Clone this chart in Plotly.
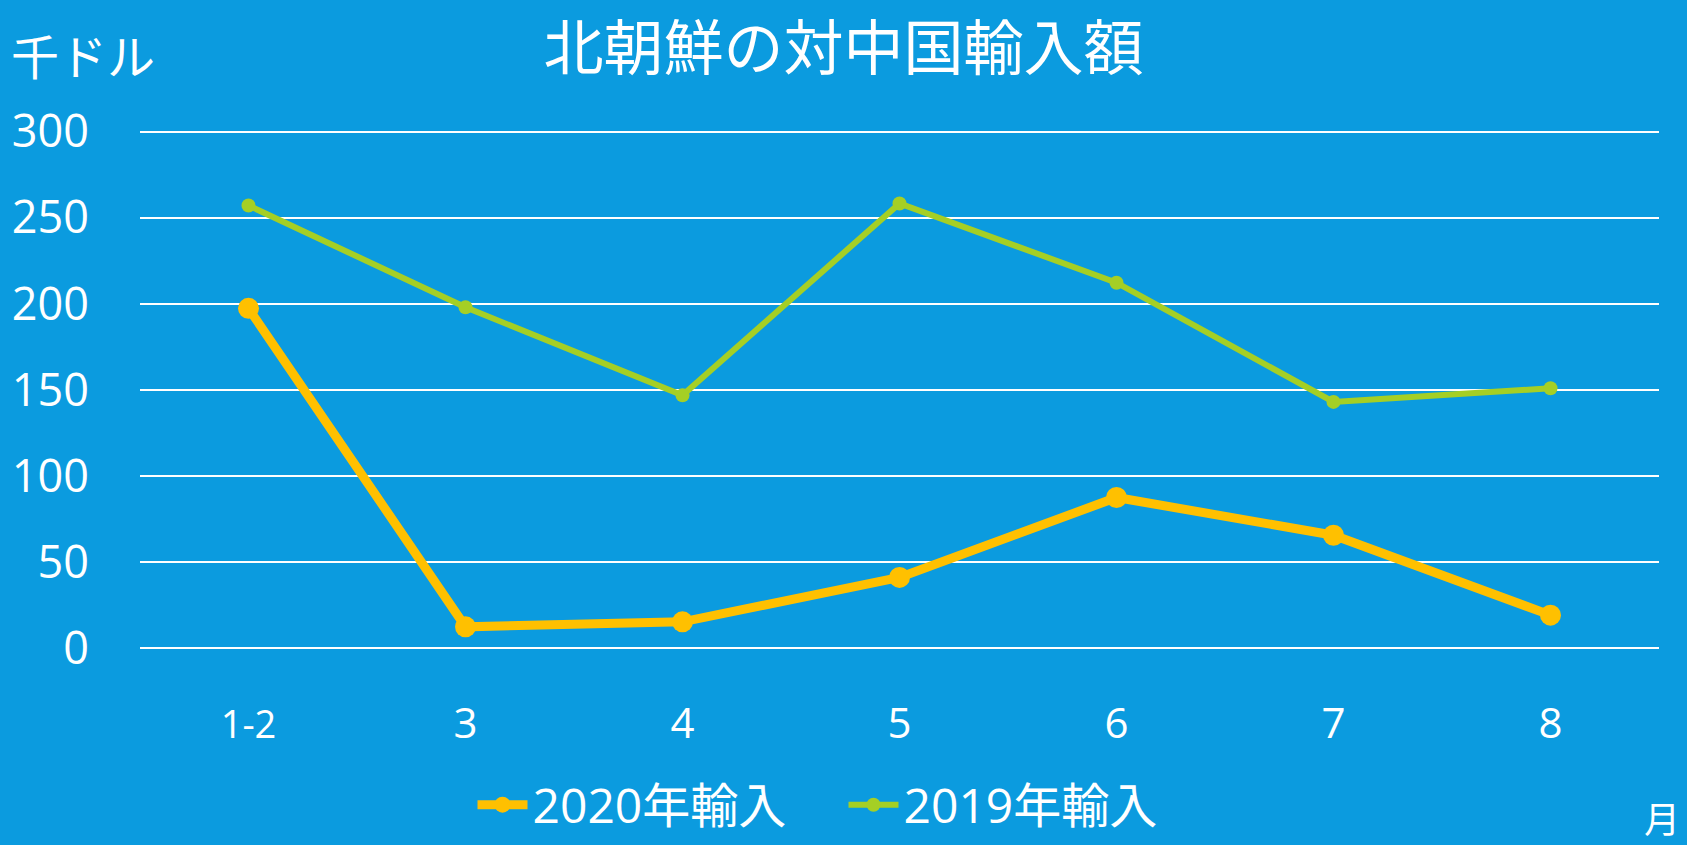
import plotly.graph_objects as go

months = ["1-2", "3", "4", "5", "6", "7", "8"]
imports_2020 = [197.4, 12.5, 15.4, 41.2, 87.6, 65.7, 19.3]
imports_2019 = [257.1, 198.0, 146.9, 258.3, 212.3, 143.1, 151.0]
y_ticks = [0, 50, 100, 150, 200, 250, 300]

BG = "#0B9BDF"
FONT = "Open Sans, Noto Sans CJK JP, sans-serif"
CJK = "Noto Sans CJK JP, sans-serif"

month_labels = ['<span style="font-size:38px">1-2</span>'] + months[1:]

fig = go.Figure()
fig.add_trace(go.Scatter(
    x=months, y=imports_2020, name="2020年輸入", mode="lines+markers",
    line=dict(color="#FFC000", width=9), marker=dict(size=21, color="#FFC000"),
))
fig.add_trace(go.Scatter(
    x=months, y=imports_2019, name="2019年輸入", mode="lines+markers",
    line=dict(color="#A5CF25", width=6), marker=dict(size=14, color="#A5CF25"),
))

W, H = 1687, 845
L, R = 140, 1659
T, B = 122.7, 657.4

fig.update_layout(
    width=W, height=H,
    paper_bgcolor=BG, plot_bgcolor=BG,
    margin=dict(l=L, r=W - R, t=T, b=H - B, autoexpand=False),
    title=dict(text="北朝鮮の対中国輸入額", font=dict(family=CJK, size=60, color="white"),
               x=0.5, xref="container", xanchor="center",
               y=1 - 49 / H, yref="container", yanchor="middle"),
    showlegend=True,
    legend=dict(orientation="h", xref="container", yref="container",
                x=0.5, xanchor="center", y=1 - 805 / H, yanchor="middle",
                font=dict(family=FONT, size=48, color="white"),
                bgcolor="rgba(0,0,0,0)", itemwidth=50, entrywidth=306),
    font=dict(family=FONT, color="white"),
    xaxis=dict(type="category", range=[-0.5, 6.5], showgrid=False, zeroline=False,
               showline=False, ticks="", tickfont=dict(size=42, color="white"),
               tickvals=months, ticktext=month_labels,
               ticklabelstandoff=38, fixedrange=True),
    yaxis=dict(range=[-5, 305], tickvals=y_ticks, ticktext=[str(v) for v in y_ticks],
               showgrid=True, gridcolor="white", gridwidth=1.5, zeroline=False,
               showline=False, ticks="", tickfont=dict(size=45, color="white"),
               ticklabelstandoff=50, fixedrange=True),
    annotations=[
        dict(text="千ドル", xref="paper", yref="paper",
             x=(83 - L) / (R - L), y=(B - 54) / (B - T),
             xanchor="center", yanchor="middle", showarrow=False,
             font=dict(family=CJK, size=48, color="white")),
        dict(text="月", xref="paper", yref="paper",
             x=(1662 - L) / (R - L), y=(B - 818) / (B - T),
             xanchor="center", yanchor="middle", showarrow=False,
             font=dict(family=CJK, size=36, color="white")),
    ],
)

fig.write_html("out.html")
